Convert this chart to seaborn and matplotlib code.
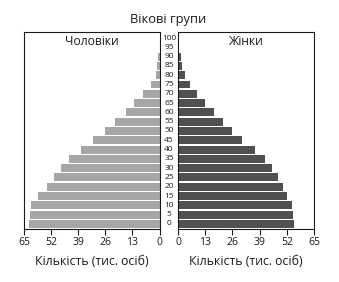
import numpy as np
import pandas as pd
import seaborn as sns
from matplotlib import pyplot as plt
from matplotlib.transforms import blended_transform_factory

# age groups, bottom (0) to top (100)
ages = [0, 5, 10, 15, 20, 25, 30, 35, 40, 45, 50, 55, 60, 65, 70, 75, 80, 85, 90, 95, 100]
men = [62.7, 62.2, 61.7, 58.4, 54.0, 50.5, 47.4, 43.5, 37.8, 32.0, 26.3, 21.5,
       16.3, 12.0, 8.1, 4.3, 1.9, 1.4, 0.5, 0, 0]
women = [55.4, 54.9, 54.4, 52.0, 50.1, 47.7, 44.9, 41.5, 36.7, 30.5, 25.7, 21.4,
         17.1, 13.1, 9.3, 5.6, 3.2, 1.8, 1.3, 0, 0]
xticks = [0, 13, 26, 39, 52, 65]

sns.set_theme(style="ticks")
plt.rcParams['font.family'] = ['Open Sans', 'DejaVu Sans']
plt.rcParams['text.color'] = '#1a1a1a'
plt.rcParams['xtick.color'] = '#1a1a1a'
plt.rcParams['axes.labelcolor'] = '#1a1a1a'

df = pd.DataFrame({'age': [str(a) for a in ages], 'men': men, 'women': women})
order = [str(a) for a in ages[::-1]]

fig = plt.figure(figsize=(3.39, 2.82), dpi=100)
ax_m = fig.add_axes([24 / 339, 1 - 229 / 282, 135.5 / 339, 197 / 282])
ax_w = fig.add_axes([178 / 339, 1 - 229 / 282, 136 / 339, 197 / 282])

sns.barplot(data=df, x='men', y='age', order=order, orient='h', color='#a6a6a6',
            saturation=1, width=0.86, linewidth=0, ax=ax_m)
sns.barplot(data=df, x='women', y='age', order=order, orient='h', color='#505050',
            saturation=1, width=0.86, linewidth=0, ax=ax_w)

for ax, title in [(ax_m, "Чоловіки"), (ax_w, "Жінки")]:
    ax.set_ylim(20.55, -0.65)
    ax.set_yticks([])
    ax.set_ylabel("")
    ax.set_xticks(xticks)
    ax.tick_params(axis='x', labelsize=7.5, length=4, width=0.8, pad=2)
    ax.set_xlabel("Кількість (тис. осіб)", fontsize=8.8, labelpad=5)
    for s in ax.spines.values():
        s.set_linewidth(0.8)
        s.set_color('#1a1a1a')
    ax.text(0.5, 0.95, title, transform=ax.transAxes, ha='center', va='center', fontsize=8.7)

ax_m.set_xlim(65, 0)
ax_w.set_xlim(0, 65)

# age labels between the two panels
tr = blended_transform_factory(fig.transFigure, ax_m.transData)
for a in ages:
    ax_m.text(169 / 339, order.index(str(a)), str(a), transform=tr, ha='center',
              va='center', fontsize=6, clip_on=False)

fig.text(0.495, 1 - 20 / 282, "Вікові групи", ha='center', va='center', fontsize=9.3)

plt.savefig("out.png", dpi=100)
